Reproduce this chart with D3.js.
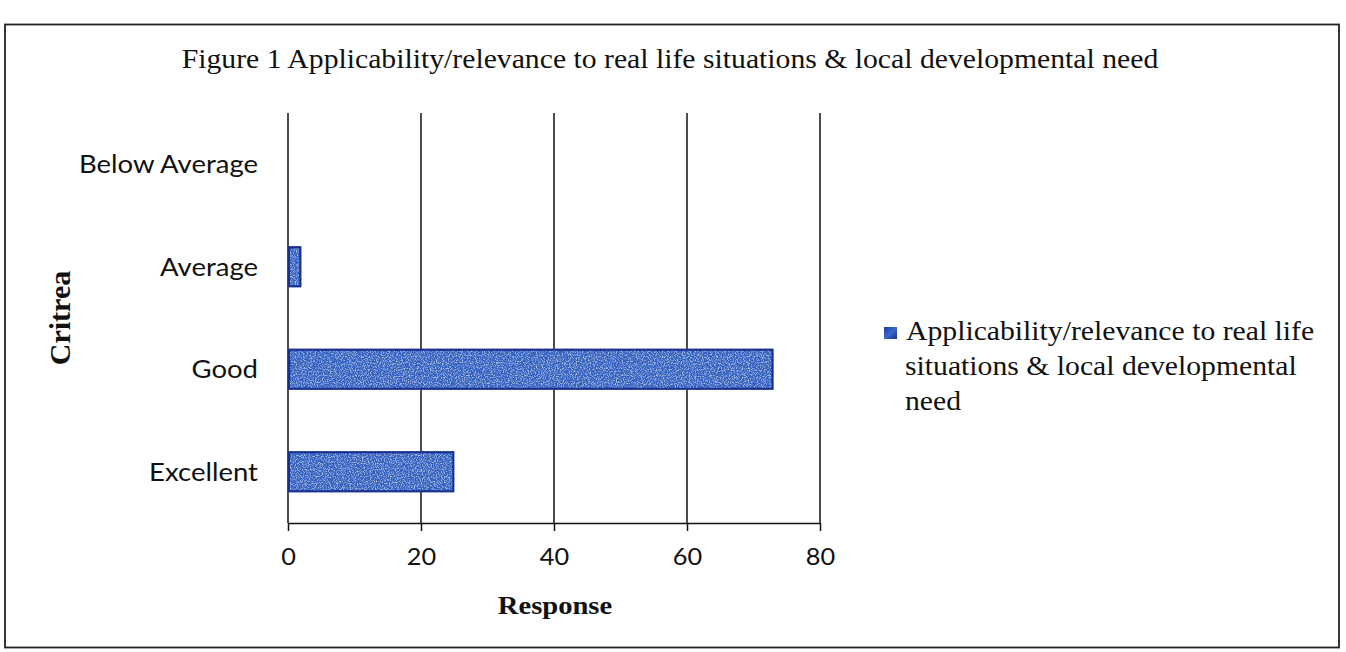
<!DOCTYPE html>
<html>
<head>
<meta charset="utf-8">
<script src="https://cdn.jsdelivr.net/npm/d3@7"></script>
<style>
  body { margin: 0; background: #fff; }
  svg { display: block; }
</style>
</head>
<body>
<div id="chart"></div>
<script>
// data
var categories = ['Excellent', 'Good', 'Average', 'Below Average'];
var responses = [25, 73, 2, 0];
var xTicks = [0, 20, 40, 60, 80];
var titleText = 'Figure 1 Applicability/relevance to real life situations & local developmental need';
var legendLines = ['Applicability/relevance to real life', 'situations & local developmental', 'need'];

var w = 1346, h = 652;
var plot = { left: 288, right: 820, top: 113, bottom: 523 };
var serif = '"Liberation Serif", "Times New Roman", serif',
    sans = 'Lato, Carlito, sans-serif';

// the scanned page is a little wider than tall, so text gets stretched sideways
var widen = 1.1;
var stretch = function( sel ){
    sel.each(function(){
        var n = this.getComputedTextLength();
        d3.select(this)
            .attr('textLength', n * widen)
            .attr('lengthAdjust', 'spacingAndGlyphs');
    });
};

var svg = d3.select('#chart').append('svg')
    .attr('width', w)
    .attr('height', h);

// speckled blue fill like the printed bars
var defs = svg.append('defs');
var filt = defs.append('filter').attr('id', 'speckle').attr('x', 0).attr('y', 0).attr('width', 1).attr('height', 1);
filt.append('feTurbulence').attr('type', 'fractalNoise').attr('baseFrequency', 0.85).attr('numOctaves', 2).attr('seed', 3).attr('result', 'noise');
filt.append('feColorMatrix').attr('in', 'noise').attr('type', 'matrix')
    .attr('values', '0 0 0 0 0.62  0 0 0 0 0.78  0 0 0 0 0.97  0 0 0 2.2 -1.05').attr('result', 'dots');
filt.append('feComposite').attr('in', 'dots').attr('in2', 'SourceGraphic').attr('operator', 'in').attr('result', 'clip');
var merge = filt.append('feMerge');
merge.append('feMergeNode').attr('in', 'SourceGraphic');
merge.append('feMergeNode').attr('in', 'clip');

var swatchGrad = defs.append('linearGradient').attr('id', 'swatchGrad')
    .attr('x1', 0).attr('y1', 0).attr('x2', 1).attr('y2', 1);
swatchGrad.append('stop').attr('offset', '0%').attr('stop-color', '#1d3a9c');
swatchGrad.append('stop').attr('offset', '50%').attr('stop-color', '#3a66d0');
swatchGrad.append('stop').attr('offset', '100%').attr('stop-color', '#18317f');

// outer frame
svg.append('rect')
    .attr('x', 5).attr('y', 24.5)
    .attr('width', 1334).attr('height', 623)
    .attr('fill', 'none')
    .attr('stroke', '#222')
    .attr('stroke-width', 1.8);

svg.append('text')
    .attr('x', 670).attr('y', 68)
    .attr('text-anchor', 'middle')
    .style('font-family', serif)
    .style('font-size', '27px')
    .attr('fill', '#111')
    .text(titleText)
    .call(stretch);

var x = d3.scaleLinear().domain([0, 80]).range([plot.left, plot.right]);
var y = d3.scaleBand().domain(categories).range([plot.bottom, plot.top]).paddingInner(0.6).paddingOuter(0.3);

// vertical gridlines
svg.append('g').selectAll('line')
    .data(xTicks)
    .enter().append('line')
    .attr('x1', function(d){ return x(d); })
    .attr('x2', function(d){ return x(d); })
    .attr('y1', plot.top)
    .attr('y2', plot.bottom)
    .attr('stroke', '#111')
    .attr('stroke-width', 1.5);

var barData = categories.map(function(c, i){ return { cat: c, val: responses[i] }; })
    .filter(function(d){ return d.val > 0; });

// bars
svg.append('g').selectAll('rect')
    .data(barData)
    .enter().append('rect')
    .attr('x', x(0))
    .attr('y', function(d){ return y(d.cat); })
    .attr('width', function(d){ return x(d.val) - x(0); })
    .attr('height', y.bandwidth())
    .attr('fill', '#3563c2')
    .attr('filter', 'url(#speckle)');
svg.append('g').selectAll('rect')
    .data(barData)
    .enter().append('rect')
    .attr('x', x(0) + 1)
    .attr('y', function(d){ return y(d.cat) + 1; })
    .attr('width', function(d){ return x(d.val) - x(0) - 2; })
    .attr('height', y.bandwidth() - 2)
    .attr('fill', 'none')
    .attr('stroke', '#1a2f8c')
    .attr('stroke-width', 2);

// x axis
var xAxis = svg.append('g')
    .attr('transform', 'translate(0,' + plot.bottom + ')')
    .call(d3.axisBottom(x).tickValues(xTicks).tickSize(8).tickPadding(18).tickSizeOuter(0));
xAxis.select('.domain').attr('stroke', '#111').attr('stroke-width', 1.5);
xAxis.selectAll('.tick line').attr('stroke', '#111').attr('stroke-width', 1.5);
xAxis.selectAll('text')
    .style('font-family', sans)
    .style('font-size', '23px')
    .attr('fill', '#111')
    .call(stretch);

// category labels
svg.append('g').selectAll('text')
    .data(categories)
    .enter().append('text')
    .attr('x', 258)
    .attr('y', function(d){ return y(d) + y.bandwidth() / 2; })
    .attr('dy', '0.36em')
    .attr('text-anchor', 'end')
    .style('font-family', sans)
    .style('font-size', '25px')
    .attr('fill', '#111')
    .text(function(d){ return d; })
    .call(stretch);

// axis titles
svg.append('text')
    .attr('x', 555).attr('y', 614)
    .attr('text-anchor', 'middle')
    .style('font-family', serif)
    .style('font-size', '26px')
    .style('font-weight', 'bold')
    .attr('fill', '#111')
    .text('Response')
    .call(stretch);

svg.append('text')
    .attr('transform', 'translate(70,318) rotate(-90)')
    .attr('text-anchor', 'middle')
    .style('font-family', serif)
    .style('font-size', '30px')
    .style('font-weight', 'bold')
    .attr('fill', '#111')
    .text('Critrea');

// legend
var legend = svg.append('g');
legend.append('rect')
    .attr('x', 884).attr('y', 327)
    .attr('width', 13).attr('height', 12)
    .attr('fill', 'url(#swatchGrad)');
legend.selectAll('text')
    .data(legendLines)
    .enter().append('text')
    .attr('x', function(d, i){ return i === 0 ? 906 : 905; })
    .attr('y', function(d, i){ return 340 + i * 35; })
    .style('font-family', serif)
    .style('font-size', '27px')
    .attr('fill', '#111')
    .text(function(d){ return d; })
    .call(stretch);
</script>
</body>
</html>
